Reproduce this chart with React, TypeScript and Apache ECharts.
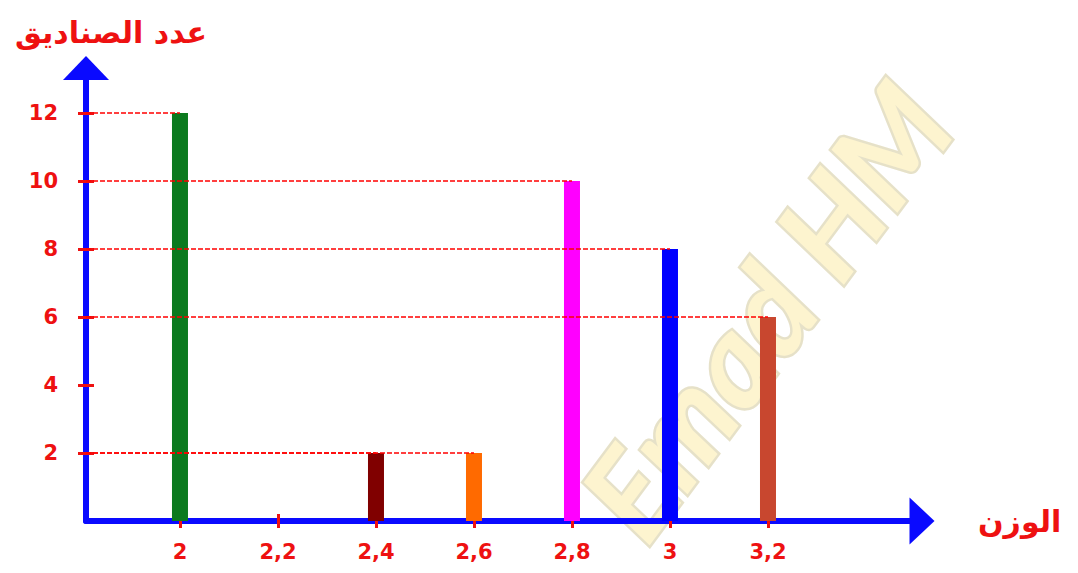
import React, { useEffect, useRef } from "react";
import * as echarts from "echarts";

const weights = [2, 2.2, 2.4, 2.6, 2.8, 3, 3.2];
const boxes = [12, 0, 2, 2, 10, 8, 6];
const barColors = ["#0b7a1e", "#7a0000", "#800000", "#ff6a00", "#ff00ff", "#0000ff", "#c8472f"];
const xTickLabels = ["2", "2,2", "2,4", "2,6", "2,8", "3", "3,2"];
const yTicks = [2, 4, 6, 8, 10, 12];
const yTitle = "عدد الصناديق";
const xTitle = "الوزن";
const watermark = "Emad HM";

const X_MIN = 1.8082;
const X_MAX = 3.5143;
const Y_MAX = 13.32;

const AXIS_BLUE = "#0a0aff";
const RED = "#ee1111";
const GUIDE_RED = "#ff0000";

export default function App() {
  const ref = useRef<HTMLDivElement>(null);
  useEffect(() => {
    document.body.style.margin = "0";
    const chart = echarts.init(ref.current!, null, { renderer: "svg" });
    const labelFor = (v: number) => {
      const i = weights.findIndex((w) => Math.abs(w - v) < 1e-6);
      return i >= 0 ? xTickLabels[i] : "";
    };
    const guideStyle = { color: GUIDE_RED, type: [5, 2], width: 1.5, opacity: 1 };
    const guideLines = weights
      .map((w, i) => ({ w, v: boxes[i] }))
      .filter((d) => d.v > 0)
      .map((d) => [
        { coord: [X_MIN, d.v], lineStyle: guideStyle },
        { coord: [d.w, d.v] },
      ]);
    const labelStyle = {
      color: RED,
      fontSize: 21,
      fontWeight: "bold" as const,
      fontFamily: "DejaVu Sans",
    };
    chart.setOption({
      animation: false,
      backgroundColor: "#ffffff",
      title: {
        text: yTitle,
        left: 10,
        top: 12,
        textStyle: { color: RED, fontSize: 30, fontWeight: "bold", fontFamily: "DejaVu Sans" },
      },
      graphic: [
        {
          type: "text",
          x: 765,
          y: 310,
          rotation: 0.93,
          z: -10,
          silent: true,
          style: {
            text: watermark,
            align: "center",
            verticalAlign: "middle",
            font: "italic bold 125px Lato",
            fill: "#fdf4cf",
            stroke: "#e6e1c8",
            lineWidth: 5,
          },
        },
      ],
      grid: { left: 86, right: 156, top: 68, bottom: 52, containLabel: false },
      xAxis: [
        {
          type: "value",
          min: X_MIN,
          max: X_MAX,
          position: "bottom",
          name: xTitle,
          nameLocation: "end",
          nameGap: 56,
          nameTextStyle: { color: RED, fontSize: 30, fontWeight: "bold", fontFamily: "DejaVu Sans", verticalAlign: "middle" },
          axisLine: {
            show: true,
            onZero: false,
            symbol: ["none", "triangle"],
            symbolSize: [47, 25],
            lineStyle: { color: AXIS_BLUE, width: 6 },
          },
          axisTick: {
            show: true,
            customValues: weights,
            length: 7,
            lineStyle: { color: RED, width: 3 },
          },
          axisLabel: {
            show: true,
            customValues: weights,
            margin: 20,
            formatter: (v: number) => labelFor(v),
            ...labelStyle,
          },
          splitLine: { show: false },
        },
        {
          type: "value",
          min: X_MIN,
          max: X_MAX,
          position: "bottom",
          axisLine: { show: false, onZero: false },
          axisTick: {
            show: true,
            inside: true,
            customValues: weights,
            length: 7,
            lineStyle: { color: RED, width: 3 },
          },
          axisLabel: { show: false },
          splitLine: { show: false },
        },
      ],
      yAxis: [
        {
          type: "value",
          min: 0,
          max: Y_MAX,
          position: "left",
          axisLine: {
            show: true,
            onZero: false,
            symbol: ["none", "triangle"],
            symbolSize: [46, 24],
            lineStyle: { color: AXIS_BLUE, width: 6 },
          },
          axisTick: {
            show: true,
            customValues: yTicks,
            length: 8,
            lineStyle: { color: RED, width: 3 },
          },
          axisLabel: {
            show: true,
            customValues: yTicks,
            margin: 28,
            ...labelStyle,
          },
          splitLine: { show: false },
        },
        {
          type: "value",
          min: 0,
          max: Y_MAX,
          position: "left",
          axisLine: { show: false, onZero: false },
          axisTick: {
            show: true,
            inside: true,
            customValues: yTicks,
            length: 8,
            lineStyle: { color: RED, width: 3 },
          },
          axisLabel: { show: false },
          splitLine: { show: false },
        },
      ],
      series: [
        {
          type: "bar",
          xAxisIndex: 0,
          yAxisIndex: 0,
          barWidth: 16,
          data: weights.map((w, i) => ({
            value: [w, boxes[i]],
            itemStyle: { color: barColors[i] },
          })),
          markLine: {
            silent: true,
            symbol: ["none", "none"],
            label: { show: false },
            emphasis: { disabled: true },
            lineStyle: guideStyle,
            data: guideLines,
          },
        },
      ],
    });
    return () => chart.dispose();
  }, []);
  return <div ref={ref} style={{ width: 1078, height: 573 }} />;
}
